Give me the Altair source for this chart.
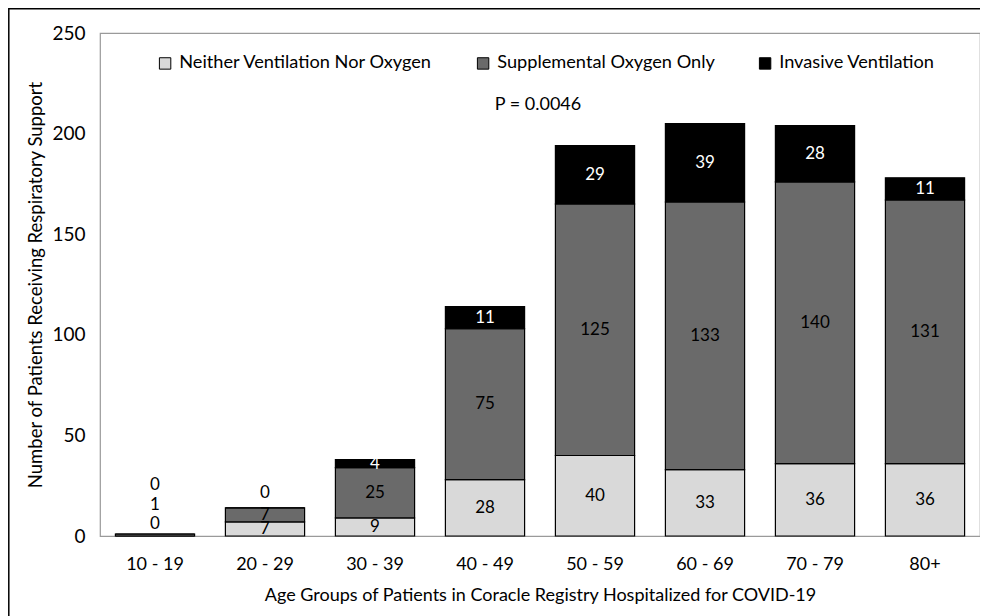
import altair as alt
import pandas as pd

ages = ["10 - 19", "20 - 29", "30 - 39", "40 - 49", "50 - 59", "60 - 69", "70 - 79", "80+"]
series = ["Neither Ventilation Nor Oxygen", "Supplemental Oxygen Only", "Invasive Ventilation"]
neither = [0, 7, 9, 28, 40, 33, 36, 36]
supplemental = [1, 7, 25, 75, 125, 133, 140, 131]
invasive = [0, 0, 4, 11, 29, 39, 28, 11]
colors = ["#d9d9d9", "#6a6a6a", "#000000"]

# label positions (in data units) for crowded tiny bars, as Excel placed them
label_override = {
    ("10 - 19", 0): 6, ("10 - 19", 1): 15.5, ("10 - 19", 2): 25.5,
    ("20 - 29", 2): 21.5,
}

rows = []
for i, a in enumerate(ages):
    cum = 0
    for j, (s, vals) in enumerate(zip(series, [neither, supplemental, invasive])):
        v = vals[i]
        mid = cum + v / 2
        cum += v
        ly = label_override.get((a, j), mid)
        outside = (a, j) in label_override
        tcol = "white" if (j == 2 and not outside) else "black"
        rows.append({"age": a, "series": s, "value": v, "order": j,
                     "label_y": ly, "tcol": tcol})
df = pd.DataFrame(rows)

FONT = "Lato"
W, H = 880, 503

x_enc = alt.X("age:N", sort=ages,
              scale=alt.Scale(paddingInner=0.28, paddingOuter=0.14),
              axis=alt.Axis(title="Age Groups of Patients in Coracle Registry Hospitalized for COVID-19",
                            labelAngle=0, ticks=False, domain=False, labelPadding=19,
                            labelFontSize=18, titleFontSize=18, labelColor="black", titleColor="black",
                            titleFontWeight="normal", titleY=59, titleBaseline="middle"))

bars = alt.Chart(df).mark_bar(stroke="black", strokeWidth=1.2).encode(
    x=x_enc,
    y=alt.Y("sum(value):Q", stack="zero",
            scale=alt.Scale(domain=[0, 250], nice=False),
            axis=alt.Axis(title="Number of Patients Receiving Respiratory Support",
                          values=[0, 50, 100, 150, 200, 250], grid=False, ticks=False, domain=False,
                          labelPadding=15, labelFontSize=19, titleFontSize=18.5,
                          labelColor="black", titleColor="black", titleFontWeight="normal",
                          titleX=-65, titleY=H / 2, titleAngle=270, titleAlign="center",
                          titleBaseline="middle")),
    color=alt.Color("series:N", sort=series,
                    scale=alt.Scale(domain=series, range=colors),
                    legend=alt.Legend(title=None, orient="none", direction="horizontal",
                                      legendX=56, legendY=21, symbolType="square", symbolSize=130,
                                      symbolStrokeColor="black", symbolStrokeWidth=1,
                                      labelFontSize=18.2, labelOffset=5, columnPadding=41,
                                      labelColor="black", labelLimit=400)),
    order=alt.Order("order:Q"),
)

labels = alt.Chart(df).mark_text(fontSize=17, font=FONT, baseline="middle").encode(
    x=alt.X("age:N", sort=ages),
    y=alt.Y("label_y:Q"),
    text=alt.Text("value:Q"),
    color=alt.Color("tcol:N", scale=None),
)

ptext = alt.Chart(pd.DataFrame({"t": ["P = 0.0046"]})).mark_text(
    fontSize=18, font=FONT, color="black", baseline="middle", align="center"
).encode(x=alt.value(438), y=alt.value(72), text="t:N")

frame = alt.Chart(pd.DataFrame({"a": [0]})).mark_rect(
    fill="transparent", stroke="black", strokeWidth=1.5
).encode(x=alt.value(-91.2), x2=alt.value(W + 60), y=alt.value(-24.2), y2=alt.value(H + 200))

chart = alt.layer(bars, labels, ptext, frame).properties(
    width=W, height=H,
    autosize=alt.AutoSizeParams(type="none"),
    padding={"left": 92, "top": 25, "right": 0, "bottom": 82},
).configure(font=FONT).configure_view(stroke="#9a9a9a", strokeWidth=1.2).configure_axis(
    labelFont=FONT, titleFont=FONT
).configure_legend(labelFont=FONT)

chart.save("out.html", embed_options={"renderer": "svg", "actions": False})
